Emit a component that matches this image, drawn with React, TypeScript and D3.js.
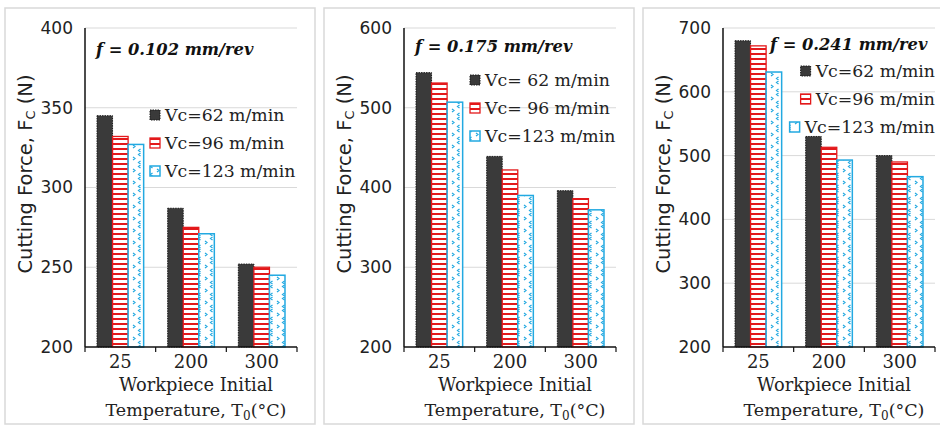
import React, { useEffect, useRef } from "react";
import * as d3 from "d3";

// categories
const temps = ["25", "200", "300"];
const seriesKeys = ["v62", "v96", "v123"];

// panel titles and legend labels
const feedTitles = ["f = 0.102 mm/rev", "f = 0.175 mm/rev", "f = 0.241 mm/rev"];
const legendA = ["Vc=62 m/min", "Vc=96 m/min", "Vc=123 m/min"];
const legendB = ["Vc= 62 m/min", "Vc= 96 m/min", "Vc=123 m/min"];

// cutting force (N)
const f102_v62 = [345, 287, 252];
const f102_v96 = [332, 275, 250];
const f102_v123 = [327, 271, 245];

const f175_v62 = [544, 439, 396];
const f175_v96 = [531, 422, 386];
const f175_v123 = [507, 390, 372];

const f241_v62 = [680, 530, 500];
const f241_v96 = [672, 513, 490];
const f241_v123 = [631, 493, 467];

// y axis ticks
const ticks102 = [200, 250, 300, 350, 400];
const ticks175 = [200, 300, 400, 500, 600];
const ticks241 = [200, 300, 400, 500, 600, 700];

const panels = [
  { left: 5, title: feedTitles[0], series: [f102_v62, f102_v96, f102_v123], ticks: ticks102, legend: legendA, titlePos: [91, 47], legendPos: [145, 107], legendAlign: "start" },
  { left: 324, title: feedTitles[1], series: [f175_v62, f175_v96, f175_v123], ticks: ticks175, legend: legendB, titlePos: [91, 44], legendPos: [146, 72], legendAlign: "start" },
  { left: 643, title: feedTitles[2], series: [f241_v62, f241_v96, f241_v123], ticks: ticks241, legend: legendA, titlePos: [127, 42], legendPos: [292, 63], legendAlign: "end" },
];

const SANS = "'DejaVu Sans', sans-serif";
const SERIF = "'DejaVu Serif', serif";

const barStyle: Record<string, { fill: string; stroke: string; width: number; dash: string | null }> = {
  v62: { fill: "#3a3a3a", stroke: "#1a1a1a", width: 1, dash: "1.5,1" },
  v96: { fill: "url(#redStripe)", stroke: "#e3191b", width: 1.3, dash: null },
  v123: { fill: "url(#blueDots)", stroke: "#22a9e1", width: 1.5, dash: null },
};

export default function App() {
  const svgRef = useRef<SVGSVGElement>(null);

  useEffect(() => {
    document.body.style.margin = "0";
    if (!svgRef.current) return;
    const svg = d3.select(svgRef.current);
    svg.selectAll("*").remove();

    const defs = svg.append("defs");
    const red = defs.append("pattern").attr("id", "redStripe").attr("patternUnits", "userSpaceOnUse").attr("width", 6).attr("height", 5);
    red.append("rect").attr("width", 6).attr("height", 5).attr("fill", "#fff");
    red.append("rect").attr("y", 0).attr("width", 6).attr("height", 2).attr("fill", "#e3191b");

    const blue = defs.append("pattern").attr("id", "blueDots").attr("patternUnits", "userSpaceOnUse").attr("width", 12).attr("height", 12);
    blue.append("rect").attr("width", 12).attr("height", 12).attr("fill", "#fff");
    blue.append("path").attr("d", "M3.5,1 L1.5,2.5 L3.5,4 M8,5 L10,6.5 L8,8 M3.5,9 L1.5,10.5 L3.5,12")
      .attr("fill", "none").attr("stroke", "#22a9e1").attr("stroke-width", 1.2);

    const top = 20, bottom = 339, axisX = 80, right = 292;

    panels.forEach((p) => {
      const g = svg.append("g").attr("transform", `translate(${p.left},8)`);
      g.append("rect").attr("x", 0).attr("y", 0).attr("width", 310).attr("height", 416)
        .attr("fill", "#fff").attr("stroke", "#d9d9d9").attr("stroke-width", 1.5);

      const yMin = p.ticks[0];
      const yMax = p.ticks[p.ticks.length - 1];
      const y = d3.scaleLinear().domain([yMin, yMax]).range([bottom, top]);
      const x0 = d3.scaleBand().domain(temps).range([axisX, right]).paddingInner(0.34).paddingOuter(0.17);
      const x1 = d3.scaleBand().domain(seriesKeys).range([0, x0.bandwidth()]);

      // gridlines
      g.selectAll("line.grid").data(p.ticks.slice(1)).enter().append("line")
        .attr("x1", axisX).attr("x2", right).attr("y1", (d) => y(d)).attr("y2", (d) => y(d))
        .attr("stroke", "#d9d9d9").attr("stroke-width", 1);

      // y tick labels
      const yAxis = g.append("g").attr("transform", `translate(${axisX},0)`)
        .call(d3.axisLeft(y).tickValues(p.ticks).tickSize(0).tickPadding(12));
      yAxis.select(".domain").remove();
      yAxis.selectAll("text").attr("font-family", SANS).attr("font-size", 17).attr("fill", "#222");

      // bars
      seriesKeys.forEach((k, si) => {
        const st = barStyle[k];
        g.selectAll(`rect.bar-${k}`).data(p.series[si]).enter().append("rect")
          .attr("x", (_, i) => (x0(temps[i]) as number) + (x1(k) as number))
          .attr("y", (d) => y(d))
          .attr("width", x1.bandwidth())
          .attr("height", (d) => bottom - y(d))
          .attr("fill", st.fill).attr("stroke", st.stroke).attr("stroke-width", st.width)
          .attr("stroke-dasharray", st.dash);
      });

      // axes lines
      g.append("line").attr("x1", axisX).attr("x2", axisX).attr("y1", top).attr("y2", bottom)
        .attr("stroke", "#111").attr("stroke-width", 1.5);
      g.append("line").attr("x1", axisX).attr("x2", right).attr("y1", bottom).attr("y2", bottom)
        .attr("stroke", "#111").attr("stroke-width", 1.5);
      const gap = (x0.step() - x0.bandwidth()) / 2;
      const bounds = temps.map((t) => (x0(t) as number) - gap).concat([right]);
      g.selectAll("line.xt").data(bounds).enter().append("line")
        .attr("x1", (d) => d).attr("x2", (d) => d).attr("y1", bottom).attr("y2", bottom + 5)
        .attr("stroke", "#111").attr("stroke-width", 1.2);

      // x tick labels
      const xAxis = g.append("g").attr("transform", `translate(0,${bottom})`)
        .call(d3.axisBottom(x0).tickSize(0).tickPadding(8));
      xAxis.select(".domain").remove();
      xAxis.selectAll("text").attr("font-family", SERIF).attr("font-size", 18).attr("fill", "#222");

      // x title
      g.append("text").attr("x", 191).attr("y", 383).attr("text-anchor", "middle")
        .attr("font-family", SERIF).attr("font-size", 17.8).attr("fill", "#222").text("Workpiece Initial");
      const xt = g.append("text").attr("x", 191).attr("y", 408).attr("text-anchor", "middle")
        .attr("font-family", SERIF).attr("font-size", 17.5).attr("fill", "#222");
      xt.append("tspan").text("Temperature, T");
      xt.append("tspan").attr("font-size", 12).attr("dy", 4).text("0");
      xt.append("tspan").attr("dy", -4).text("(°C)");

      // y title
      const yt = g.append("text").attr("transform", `translate(27,166) rotate(-90)`).attr("text-anchor", "middle")
        .attr("font-family", SANS).attr("font-size", 19.5).attr("fill", "#222");
      yt.append("tspan").text("Cutting Force, F");
      yt.append("tspan").attr("font-size", 13).attr("dy", 3).text("C");
      yt.append("tspan").attr("dy", -3).text(" (N)");

      // panel title
      g.append("text").attr("x", p.titlePos[0]).attr("y", p.titlePos[1])
        .attr("font-family", SERIF).attr("font-size", 16.3).attr("font-weight", "bold").attr("font-style", "italic")
        .attr("fill", "#111").text(p.title);

      // legend
      p.legend.forEach((lab, li) => {
        const cy = p.legendPos[1] + li * 28;
        const st = barStyle[seriesKeys[li]];
        const t = g.append("text").attr("y", cy).attr("dy", "0.35em")
          .attr("font-family", SERIF).attr("font-size", 17.3).attr("fill", "#222").text(lab);
        let sx = p.legendPos[0];
        if (p.legendAlign === "end") {
          t.attr("x", p.legendPos[0]).attr("text-anchor", "end");
          const len = (t.node() as SVGTextElement).getComputedTextLength();
          sx = p.legendPos[0] - len - 15;
        } else {
          t.attr("x", sx + 15);
        }
        g.append("rect").attr("x", sx).attr("y", cy - 5).attr("width", 10).attr("height", 10)
          .attr("fill", st.fill).attr("stroke", st.stroke).attr("stroke-width", st.width)
          .attr("stroke-dasharray", st.dash);
      });
    });
  }, []);

  return <svg ref={svgRef} width={940} height={426} style={{ display: "block", background: "#fff" }} />;
}
